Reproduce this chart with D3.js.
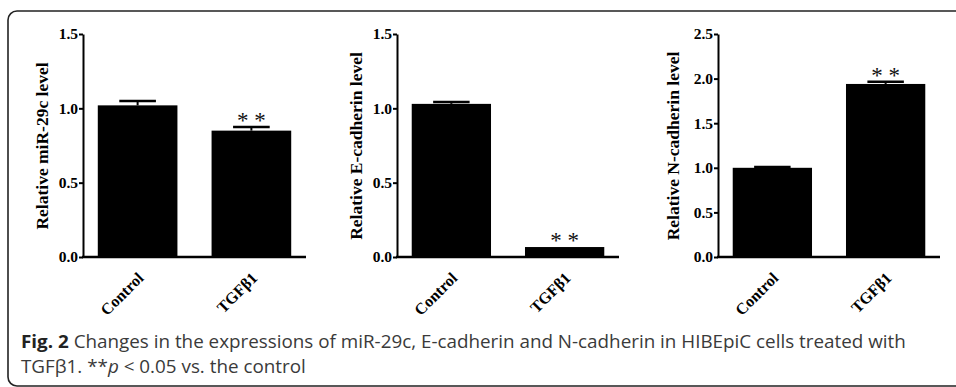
<!DOCTYPE html>
<html>
<head>
<meta charset="utf-8">
<script src="https://cdn.jsdelivr.net/npm/d3@7"></script>
<style>
  body { margin: 0; background: #fff; }
  svg { display: block; }
  .tick text { font-family: "Liberation Serif", "Times New Roman", serif; font-weight: bold; }
</style>
</head>
<body>
<div id="chart"></div>
<script>
// data
const categories = ['Control', 'TGFβ1'];
const yLabels = ['Relative miR-29c level', 'Relative E-cadherin level', 'Relative N-cadherin level'];
const means = [[1.02, 0.85], [1.03, 0.067], [1.0, 1.94]];
const errors = [[0.03, 0.025], [0.013, 0.0], [0.01, 0.025]];
const yMax = [1.5, 1.5, 2.5];
const yTicks = [[0, 0.5, 1.0, 1.5], [0, 0.5, 1.0, 1.5], [0, 0.5, 1.0, 1.5, 2.0, 2.5]];
const stars = [[false, true], [false, true], [false, true]];

const width = 956, height = 387;
const svg = d3.select('#chart').append('svg')
  .attr('width', width)
  .attr('height', height);

// figure frame (runs off right side)
svg.append('rect')
  .attr('x', 8).attr('y', 11)
  .attr('width', 1000).attr('height', 375)
  .attr('rx', 9)
  .attr('fill', 'none')
  .attr('stroke', '#222')
  .attr('stroke-width', 1.6);

// panel placement
const panels = [
  { left: 83, right: 306, labelX: 42 },
  { left: 397, right: 619, labelX: 356 },
  { left: 718, right: 940, labelX: 673 }
];
const plotTop = 34, plotBottom = 257;

panels.forEach((p, i) => {
  const g = svg.append('g');
  const x = d3.scaleBand().domain(categories).range([p.left, p.right])
    .paddingInner(0.3).paddingOuter(0.13);
  const y = d3.scaleLinear().domain([0, yMax[i]]).range([plotBottom, plotTop]);
  const rows = categories.map((c, j) => ({ c, v: means[i][j], e: errors[i][j], s: stars[i][j] }));

  // bars
  g.selectAll('.bar').data(rows).enter().append('rect')
    .attr('x', d => x(d.c))
    .attr('width', x.bandwidth())
    .attr('y', d => y(d.v))
    .attr('height', d => y(0) - y(d.v))
    .attr('fill', '#000');

  // error bars (upper only)
  const capW = x.bandwidth() * 0.46;
  const eb = g.selectAll('.err').data(rows.filter(d => d.e > 0)).enter().append('g');
  eb.append('line')
    .attr('x1', d => x(d.c) + x.bandwidth() / 2).attr('x2', d => x(d.c) + x.bandwidth() / 2)
    .attr('y1', d => y(d.v)).attr('y2', d => y(d.v + d.e))
    .attr('stroke', '#000').attr('stroke-width', 2);
  eb.append('line')
    .attr('x1', d => x(d.c) + x.bandwidth() / 2 - capW / 2)
    .attr('x2', d => x(d.c) + x.bandwidth() / 2 + capW / 2)
    .attr('y1', d => y(d.v + d.e)).attr('y2', d => y(d.v + d.e))
    .attr('stroke', '#000').attr('stroke-width', 2.5);

  // significance stars
  g.selectAll('.star').data(rows.filter(d => d.s)).enter().append('text')
    .attr('x', d => x(d.c) + x.bandwidth() / 2)
    .attr('y', d => y(d.v + d.e) + 1)
    .attr('text-anchor', 'middle')
    .attr('font-family', '"Liberation Serif", serif')
    .attr('font-size', 23)
    .attr('fill', '#111')
    .text('* *');

  // y axis
  const yAxis = g.append('g')
    .attr('transform', `translate(${p.left},0)`)
    .call(d3.axisLeft(y).tickValues(yTicks[i]).tickFormat(d3.format('.1f'))
      .tickSize(4).tickPadding(1).tickSizeOuter(0));
  yAxis.select('.domain').attr('stroke-width', 2);
  yAxis.selectAll('.tick line').attr('stroke-width', 2);
  yAxis.selectAll('.tick text').attr('font-size', 15.5).attr('fill', '#000');

  // x axis
  const xAxis = g.append('g')
    .attr('transform', `translate(0,${plotBottom})`)
    .call(d3.axisBottom(x).tickSize(0).tickSizeOuter(0).tickFormat(() => ''));
  xAxis.select('.domain').attr('stroke-width', 2.5)
    .attr('d', `M${p.left - 1},0H${p.right}`);

  // rotated category labels
  g.selectAll('.xl').data(categories).enter().append('text')
    .attr('transform', d => `translate(${x(d) + x.bandwidth() / 2 + 7},279) rotate(-45)`)
    .attr('text-anchor', 'end')
    .attr('font-family', '"Liberation Serif", serif')
    .attr('font-weight', 'bold')
    .attr('font-size', 16)
    .text(d => d);

  // y label
  g.append('text')
    .attr('transform', `translate(${p.labelX},146) rotate(-90)`)
    .attr('text-anchor', 'middle')
    .attr('dy', '0.35em')
    .attr('font-family', '"Liberation Serif", serif')
    .attr('font-weight', 'bold')
    .attr('font-size', 17.5)
    .text(yLabels[i]);
});

// caption, condensed horizontally so "cells" starts where it does in the figure
const capText = ' Changes in the expressions of miR-29c, E-cadherin and N-cadherin in HIBEpiC cells treated with';
const cap = svg.append('g')
  .attr('font-family', '"Open Sans", sans-serif')
  .attr('font-size', 18)
  .attr('fill', '#3a3a3a');
const l1 = cap.append('text').attr('x', 0).attr('y', 348);
l1.append('tspan').attr('font-weight', 'bold').attr('fill', '#222').text('Fig. 2');
l1.append('tspan').text(capText);
const l2 = cap.append('text').attr('x', 0).attr('y', 373);
l2.append('tspan').text('TGFβ1. **');
l2.append('tspan').attr('font-style', 'italic').text('p');
l2.append('tspan').text(' < 0.05 vs. the control');
const cellsAt = l1.node().getStartPositionOfChar(('Fig. 2' + capText).indexOf('cells')).x;
const sx = (757 - 21) / cellsAt;
cap.attr('transform', `translate(21,0) scale(${sx},1)`);
</script>
</body>
</html>
